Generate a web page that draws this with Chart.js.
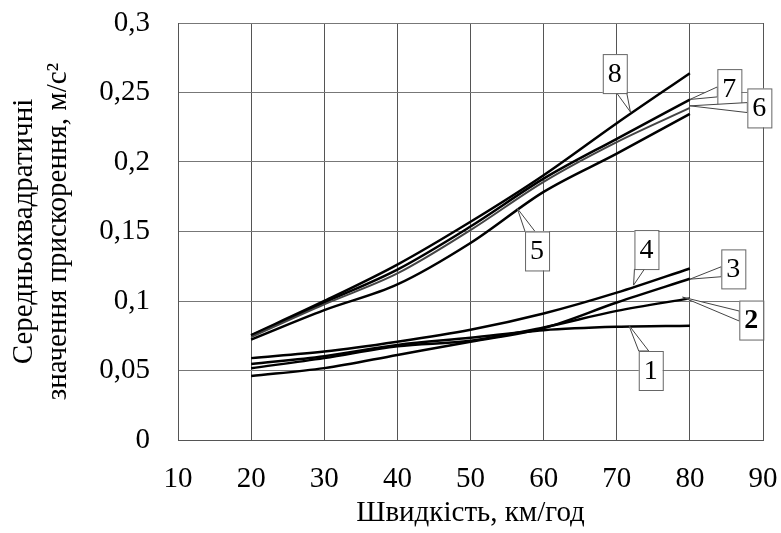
<!DOCTYPE html>
<html>
<head>
<meta charset="utf-8">
<script src="https://cdn.jsdelivr.net/npm/chart.js@4"></script>
<style>
  html, body { margin: 0; padding: 0; background: #fff; }
  #wrap { width: 781px; height: 533px; }
</style>
</head>
<body>
<div id="wrap"><canvas id="chart" width="781" height="533"></canvas></div>
<script>
// швидкість, км/год
const speeds = [20, 30, 40, 50, 60, 70, 80];

// середньоквадратичні значення прискорення, м/с2
const curve1 = [0.0546, 0.0603, 0.0684, 0.0735, 0.0790, 0.0814, 0.0822];
const curve2 = [0.0517, 0.0589, 0.0674, 0.0714, 0.0810, 0.0929, 0.1019];
const curve3 = [0.0460, 0.0517, 0.0612, 0.0707, 0.0805, 0.0989, 0.1160];
const curve4 = [0.0589, 0.0636, 0.0707, 0.0793, 0.0910, 0.1060, 0.1234];
const curve5 = [0.0722, 0.0934, 0.1119, 0.1417, 0.1785, 0.2060, 0.2346];
const curve6 = [0.0740, 0.0976, 0.1198, 0.1510, 0.1857, 0.2143, 0.2389];
const curve7 = [0.0750, 0.0989, 0.1226, 0.1536, 0.1880, 0.2167, 0.2448];
const curve8 = [0.0755, 0.1000, 0.1262, 0.1570, 0.1905, 0.2279, 0.2639];

const xTicks = [10, 20, 30, 40, 50, 60, 70, 80, 90];
const yTicks = [0, 0.05, 0.1, 0.15, 0.2, 0.25, 0.3];

// номери кривих: [текст, x коробки, y коробки, x вістря, y вістря, жирний]
const callouts = [
  ["8", 69.73, 0.2636, 71.87, 0.2360, false],
  ["7", 85.40, 0.2528, 80.00, 0.2450, false],
  ["6", 89.50, 0.2389, 80.00, 0.2404, false],
  ["5", 59.10, 0.1360, 56.40, 0.1666, false],
  ["4", 74.06, 0.1370, 72.30, 0.1114, false],
  ["3", 85.94, 0.1231, 80.00, 0.1157, false],
  ["2", 88.40, 0.0863, 79.00, 0.1028, true],
  ["1", 74.65, 0.0500, 71.64, 0.0827, false]
];

const serif = "'Liberation Serif', 'Times New Roman', serif";

function pts(ys) {
  return speeds.map((x, i) => ({ x: x, y: ys[i] }));
}

function ds(ys, color, width) {
  return {
    data: pts(ys),
    borderColor: color,
    borderWidth: width,
    pointRadius: 0,
    fill: false,
    tension: 0.4,
    cubicInterpolationMode: "monotone"
  };
}

// прибираємо автоматичні відступи під підписи, щоб поле графіка стояло точно
function noPad(s) {
  s.paddingTop = 0;
  s.paddingRight = 0;
  s.paddingBottom = 0;
  s.paddingLeft = 0;
}

const calloutPlugin = {
  id: "callouts",
  afterDatasetsDraw(chart) {
    const ctx = chart.ctx;
    const xs = chart.scales.x, ys = chart.scales.y;
    const bw = 24, bh = 39;
    ctx.save();
    callouts.forEach(([txt, bx, by, tx, ty, bold]) => {
      const cx = xs.getPixelForValue(bx), cy = ys.getPixelForValue(by);
      const px = xs.getPixelForValue(tx), py = ys.getPixelForValue(ty);
      const dx = px - cx, dy = py - cy;
      // точка на краю коробки
      let ex, ey, ux, uy;
      if (Math.abs(dx) * bh > Math.abs(dy) * bw) {
        ex = cx + Math.sign(dx) * bw / 2;
        ey = cy + dy * (bw / 2) / Math.abs(dx);
        ey = Math.max(cy - bh / 2 + 6, Math.min(cy + bh / 2 - 6, ey));
        ux = 0; uy = 5;
      } else {
        ey = cy + Math.sign(dy) * bh / 2;
        ex = cx + dx * (bh / 2) / Math.abs(dy);
        ex = Math.max(cx - bw / 2 + 5, Math.min(cx + bw / 2 - 5, ex));
        ux = 5; uy = 0;
      }
      ctx.beginPath();
      ctx.moveTo(ex - ux, ey - uy);
      ctx.lineTo(px, py);
      ctx.lineTo(ex + ux, ey + uy);
      ctx.closePath();
      ctx.fillStyle = "#fff";
      ctx.fill();
      ctx.strokeStyle = "#444";
      ctx.lineWidth = 1;
      ctx.stroke();

      ctx.fillStyle = "#fff";
      ctx.fillRect(cx - bw / 2, cy - bh / 2, bw, bh);
      ctx.strokeStyle = "#666";
      ctx.strokeRect(cx - bw / 2 + 0.5, cy - bh / 2 + 0.5, bw, bh);

      ctx.fillStyle = "#000";
      ctx.font = (bold ? "bold " : "") + "28px " + serif;
      ctx.textAlign = "center";
      ctx.textBaseline = "middle";
      ctx.fillText(txt, cx, cy + 1);
    });
    ctx.restore();
  }
};

new Chart(document.getElementById("chart").getContext("2d"), {
  type: "line",
  data: {
    datasets: [
      ds(curve1, "#000", 2.5),
      ds(curve2, "#000", 2.5),
      ds(curve3, "#000", 2.5),
      ds(curve4, "#000", 2.5),
      ds(curve5, "#000", 2.5),
      ds(curve6, "#444", 2),
      ds(curve7, "#000", 2.5),
      ds(curve8, "#000", 2.5)
    ]
  },
  options: {
    responsive: false,
    animation: false,
    layout: { padding: { top: 23, right: 18, left: 0, bottom: 0 } },
    plugins: {
      legend: { display: false },
      tooltip: { enabled: false }
    },
    scales: {
      x: {
        type: "linear",
        min: 10,
        max: 90,
        afterBuildTicks: (s) => { s.ticks = xTicks.map((v) => ({ value: v })); },
        afterFit: (s) => { s.height = 93; noPad(s); },
        grid: { color: "#555", lineWidth: 1, drawTicks: false },
        border: { color: "#555" },
        ticks: {
          color: "#000",
          padding: 22,
          font: { family: serif, size: 29 },
          maxRotation: 0
        },
        title: {
          display: true,
          text: "Швидкість, км/год",
          color: "#000",
          font: { family: serif, size: 29 },
          padding: { top: 0, bottom: 2 }
        }
      },
      y: {
        min: 0,
        max: 0.3,
        afterBuildTicks: (s) => { s.ticks = yTicks.map((v) => ({ value: v })); },
        afterFit: (s) => { s.width = 178; noPad(s); },
        grid: { color: "#777", lineWidth: 1, drawTicks: false },
        border: { color: "#555" },
        ticks: {
          color: "#000",
          padding: 28,
          font: { family: serif, size: 29 },
          callback: (v) => String(parseFloat(v.toFixed(2))).replace(".", ",")
        },
        title: {
          display: true,
          text: ["Середньоквадратичні", "значення прискорення, м/с²"],
          color: "#000",
          font: { family: serif, size: 29, lineHeight: 1.15 },
          padding: { top: 8, bottom: 0 }
        }
      }
    }
  },
  plugins: [calloutPlugin]
});
</script>
</body>
</html>
